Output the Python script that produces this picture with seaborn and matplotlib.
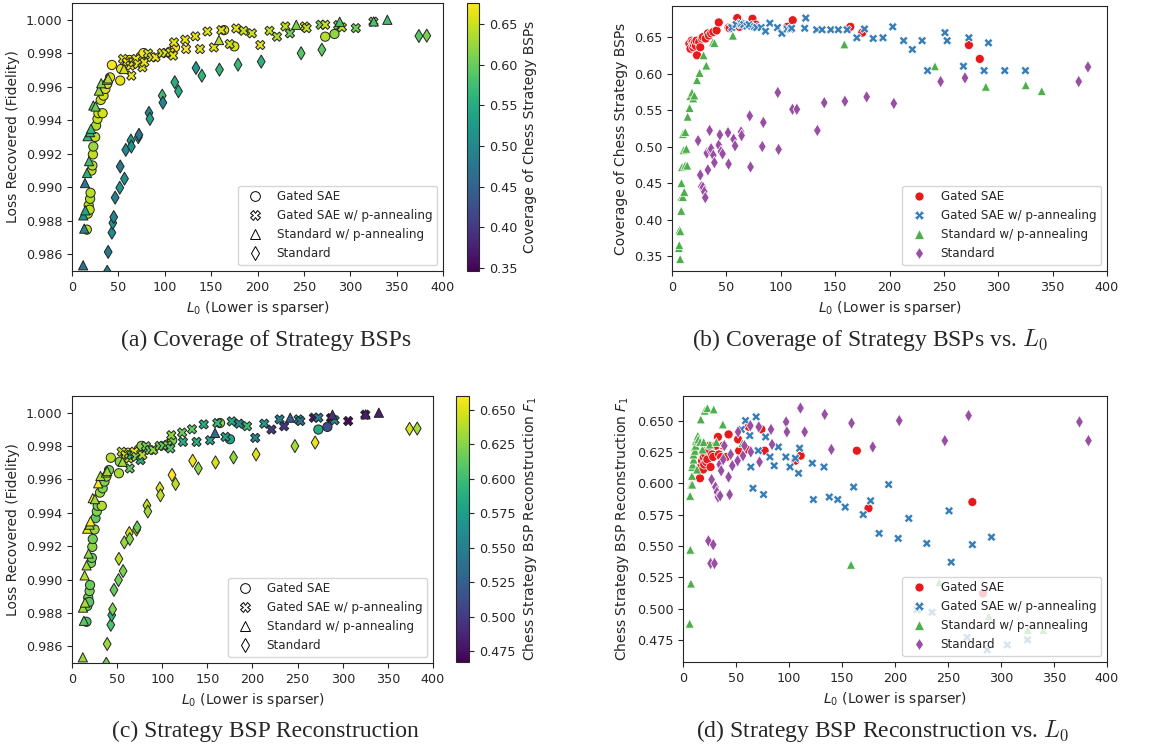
import pandas as pd
import seaborn as sns
import matplotlib.pyplot as plt
from matplotlib.lines import Line2D
from matplotlib.colors import Normalize
from matplotlib.cm import ScalarMappable
from matplotlib.ticker import FormatStrFormatter, MultipleLocator

methods = ['Gated SAE', 'Gated SAE w/ p-annealing',
           'Standard w/ p-annealing', 'Standard']
markers = dict(zip(methods, ['o', 'X', '^', 'd']))

# Gated SAE
gated_l0 = [16, 17, 18, 19, 19.5, 20, 21, 22, 22.5, 23, 25, 26, 27.5, 28.5, 31, 33, 34, 36, 38, 41,
            43, 52, 53, 60, 62, 74, 77, 106, 111, 164, 175, 273, 283]
gated_fid = [0.98747, 0.98842, 0.98892, 0.98866, 0.98931, 0.98967, 0.99100, 0.99130, 0.99196, 0.99243,
             0.99300, 0.99368, 0.99408, 0.99442, 0.99521, 0.99442, 0.99547, 0.99587, 0.99617, 0.99656,
             0.99730, 0.99637, 0.99706, 0.99736, 0.99760, 0.99780, 0.99801, 0.99810, 0.99835, 0.99938,
             0.99841, 0.99899, 0.99915]
gated_cov = [0.641, 0.634, 0.645, 0.643, 0.636, 0.640, 0.643, 0.638, 0.645, 0.625,
             0.643, 0.636, 0.648, 0.650, 0.648, 0.655, 0.652, 0.655, 0.657, 0.659,
             0.670, 0.663, 0.662, 0.676, 0.664, 0.675, 0.667, 0.664, 0.673, 0.664,
             0.656, 0.639, 0.620]
gated_f1 = [0.604, 0.614, 0.618, 0.611, 0.621, 0.615, 0.623, 0.617, 0.626, 0.619,
            0.630, 0.613, 0.623, 0.621, 0.630, 0.637, 0.623, 0.621, 0.630, 0.621,
            0.639, 0.635, 0.626, 0.627, 0.645, 0.643, 0.626, 0.618, 0.622, 0.626,
            0.580, 0.585, 0.512]

# Gated SAE w/ p-annealing
gpa_l0 = [55, 59, 63, 64, 66, 69, 71, 76, 78, 82, 86, 90, 97, 101, 106, 109, 110, 122, 123, 133,
          138, 146, 153, 161, 170, 177, 185, 194, 203, 213, 221, 230, 235, 251, 253, 268, 273, 287,
          291, 306, 325]
gpa_fid = [0.99766, 0.99746, 0.99726, 0.99666, 0.99746, 0.99766, 0.99736, 0.99716, 0.99746, 0.99799,
           0.99776, 0.99776, 0.99801, 0.99801, 0.99805, 0.99786, 0.99865, 0.99881, 0.99825, 0.99901,
           0.99825, 0.99930, 0.99835, 0.99938, 0.99855, 0.99948, 0.99934, 0.99919, 0.99849, 0.99934,
           0.99899, 0.99960, 0.99919, 0.99960, 0.99950, 0.99970, 0.99970, 0.99968, 0.99955, 0.99950,
           0.99988]
gpa_cov = [0.663, 0.667, 0.669, 0.668, 0.667, 0.665, 0.667, 0.664, 0.663, 0.663,
           0.658, 0.669, 0.663, 0.655, 0.661, 0.661, 0.662, 0.662, 0.676, 0.660,
           0.660, 0.660, 0.660, 0.660, 0.649, 0.661, 0.648, 0.649, 0.664, 0.645,
           0.633, 0.645, 0.604, 0.656, 0.645, 0.610, 0.649, 0.604, 0.642, 0.604,
           0.604]
gpa_f1 = [0.643, 0.650, 0.638, 0.613, 0.596, 0.653, 0.626, 0.591, 0.637, 0.621,
          0.614, 0.629, 0.621, 0.613, 0.620, 0.608, 0.628, 0.616, 0.587, 0.613,
          0.589, 0.587, 0.581, 0.597, 0.575, 0.586, 0.560, 0.599, 0.556, 0.572,
          0.499, 0.552, 0.497, 0.578, 0.537, 0.477, 0.551, 0.467, 0.557, 0.471,
          0.475]

# Standard w/ p-annealing
spa_l0 = [6.3, 6.7, 6.9, 7.5, 7.7, 8.5, 8.6, 8.7, 9.2, 10.0, 10.0, 10.7, 11.3, 12.0, 12.2, 13.2,
          14.0, 14.4, 16.2, 16.8, 18.4, 19.5, 20.5, 23.0, 25.4, 29.0, 31.5, 37.6, 39.0, 56.0,
          158.5, 241.8, 288.6, 325.3, 340.0]
spa_fid = [0.9700, 0.9720, 0.9740, 0.9760, 0.9780, 0.9790, 0.9800, 0.9810, 0.9820, 0.9830,
           0.9835, 0.9840, 0.9845, 0.98534, 0.98832, 0.98753, 0.99025, 0.98862, 0.99085, 0.99305,
           0.99156, 0.99329, 0.99349, 0.99488, 0.99482, 0.99577, 0.99621, 0.99642, 0.99650, 0.99706,
           0.99879, 0.99970, 0.99988, 0.99990, 1.00000]
spa_cov = [0.361, 0.365, 0.386, 0.346, 0.384, 0.412, 0.431, 0.450, 0.472, 0.431,
           0.517, 0.495, 0.438, 0.474, 0.520, 0.497, 0.474, 0.541, 0.553, 0.569,
           0.574, 0.566, 0.570, 0.591, 0.601, 0.625, 0.611, 0.643, 0.642, 0.652,
           0.640, 0.610, 0.582, 0.584, 0.576]
spa_f1 = [0.488, 0.590, 0.547, 0.520, 0.599, 0.606, 0.613, 0.599, 0.615, 0.619,
          0.623, 0.629, 0.626, 0.630, 0.634, 0.611, 0.638, 0.635, 0.633, 0.651,
          0.627, 0.633, 0.658, 0.660, 0.631, 0.659, 0.633, 0.647, 0.632, 0.632,
          0.535, 0.521, 0.494, 0.483, 0.483]

# Standard
std_l0 = [24.0, 26.0, 27.0, 28.5, 29.7, 30.6, 32.0, 33.0, 34.6, 35.0, 36.0, 38.0, 39.0, 43.0,
          44.0, 45.0, 46.5, 51.5, 52.0, 56.6, 58.0, 63.5, 64.0, 71.5, 72.2, 83.0, 84.0, 97.3,
          98.0, 110.8, 114.8, 133.7, 140.0, 159.0, 179.0, 204.0, 247.0, 269.4, 374.0, 382.5]
std_fid = [0.9700, 0.9715, 0.9730, 0.9745, 0.9755, 0.9765, 0.9775, 0.9785, 0.9800, 0.9810,
           0.9825, 0.98495, 0.98614, 0.98729, 0.98787, 0.98822, 0.98938, 0.98997, 0.99124, 0.99051,
           0.99223, 0.99279, 0.99243, 0.99299, 0.99313, 0.99444, 0.99408, 0.99547, 0.99505, 0.99627,
           0.99573, 0.99712, 0.99666, 0.99702, 0.99732, 0.99750, 0.99800, 0.99821, 0.99903, 0.99905]
std_cov = [0.508, 0.461, 0.445, 0.444, 0.438, 0.430, 0.491, 0.468, 0.522, 0.495,
           0.497, 0.488, 0.478, 0.502, 0.516, 0.493, 0.490, 0.519, 0.476, 0.510,
           0.501, 0.520, 0.515, 0.542, 0.472, 0.500, 0.533, 0.574, 0.496, 0.551,
           0.551, 0.522, 0.560, 0.562, 0.568, 0.559, 0.589, 0.594, 0.589, 0.609]
std_f1 = [0.554, 0.536, 0.603, 0.551, 0.536, 0.597, 0.593, 0.589, 0.615, 0.590,
          0.610, 0.619, 0.630, 0.605, 0.591, 0.623, 0.614, 0.618, 0.641, 0.622,
          0.630, 0.646, 0.625, 0.645, 0.617, 0.643, 0.631, 0.649, 0.641, 0.660,
          0.641, 0.655, 0.627, 0.648, 0.629, 0.650, 0.634, 0.654, 0.649, 0.634]

series = [
    (methods[0], gated_l0, gated_fid, gated_cov, gated_f1),
    (methods[1], gpa_l0, gpa_fid, gpa_cov, gpa_f1),
    (methods[2], spa_l0, spa_fid, spa_cov, spa_f1),
    (methods[3], std_l0, std_fid, std_cov, std_f1),
]
df = pd.concat([pd.DataFrame({'method': name, 'l0': l0, 'fidelity': fid,
                              'coverage': cov, 'f1': f1})
                for name, l0, fid, cov, f1 in series], ignore_index=True)

sns.set_style('ticks')
plt.rcParams['font.family'] = ['DejaVu Sans']
plt.rcParams['font.size'] = 10
plt.rcParams['axes.labelsize'] = 10
plt.rcParams['xtick.labelsize'] = 9.2
plt.rcParams['ytick.labelsize'] = 9.2
plt.rcParams['legend.fontsize'] = 8.6
plt.rcParams['mathtext.fontset'] = 'dejavusans'

W, H = 1149, 746
fig = plt.figure(figsize=(W / 100, H / 100), dpi=100)


def box(left, top, right, bottom):
    return [left / W, 1 - bottom / H, (right - left) / W, (bottom - top) / H]


ax_a = fig.add_axes(box(72, 3, 443, 271))
cax_a = fig.add_axes(box(467, 3, 479, 271))
ax_b = fig.add_axes(box(672, 6, 1107, 271))
ax_c = fig.add_axes(box(72, 396, 433, 663))
cax_c = fig.add_axes(box(456, 396, 469, 662))
ax_d = fig.add_axes(box(683, 396, 1107, 662))

xlabel = '$L_0$ (Lower is sparser)'


def fidelity_panel(ax, cax, col, label):
    norm = Normalize(df[col].min(), df[col].max())
    sns.scatterplot(data=df, x='l0', y='fidelity', hue=col, palette='viridis',
                    hue_norm=norm, style='method', markers=markers,
                    style_order=methods, s=44, edgecolor='#222222',
                    linewidth=0.7, legend=False, ax=ax)
    ax.set_xlim(0, 400)
    ax.set_ylim(0.985, 1.001)
    ax.xaxis.set_major_locator(MultipleLocator(50))
    ax.yaxis.set_major_locator(MultipleLocator(0.002))
    ax.yaxis.set_major_formatter(FormatStrFormatter('%.3f'))
    ax.set_xlabel(xlabel)
    ax.set_ylabel('Loss Recovered (Fidelity)')
    handles = [Line2D([], [], marker=markers[m], linestyle='', markersize=7,
                      markerfacecolor='white', markeredgecolor='black',
                      markeredgewidth=0.7, label=m) for m in methods]
    ax.legend(handles=handles, loc='lower right')
    sm = ScalarMappable(norm=norm, cmap='viridis')
    fig.colorbar(sm, cax=cax, label=label)


def metric_panel(ax, col, label):
    sns.scatterplot(data=df, x='l0', y=col, hue='method', style='method',
                    hue_order=methods, style_order=methods, markers=markers,
                    palette='Set1', s=42, ax=ax)
    ax.set_xlim(0, 400)
    ax.xaxis.set_major_locator(MultipleLocator(50))
    ax.set_xlabel(xlabel)
    ax.set_ylabel(label)
    sns.move_legend(ax, 'lower right', title=None)


fidelity_panel(ax_a, cax_a, 'coverage', 'Coverage of Chess Strategy BSPs')
metric_panel(ax_b, 'coverage', 'Coverage of Chess Strategy BSPs')
ax_b.yaxis.set_major_formatter(FormatStrFormatter('%.2f'))
fidelity_panel(ax_c, cax_c, 'f1', 'Chess Strategy BSP Reconstruction $F_1$')
cax_c.yaxis.set_major_formatter(FormatStrFormatter('%.3f'))
metric_panel(ax_d, 'f1', 'Chess Strategy BSP Reconstruction $F_1$')
ax_d.yaxis.set_major_formatter(FormatStrFormatter('%.3f'))

captions = [
    (266, 340, '(a) Coverage of Strategy BSPs'),
    (870, 340, '(b) Coverage of Strategy BSPs vs. $L_0$'),
    (265, 731, '(c) Strategy BSP Reconstruction'),
    (883, 731, '(d) Strategy BSP Reconstruction vs. $L_0$'),
]
for x, y, text in captions:
    fig.text(x / W, 1 - y / H, text, ha='center', va='center',
             family='Liberation Serif', fontsize=17, math_fontfamily='cm')

fig.savefig('out.png', dpi=100)
